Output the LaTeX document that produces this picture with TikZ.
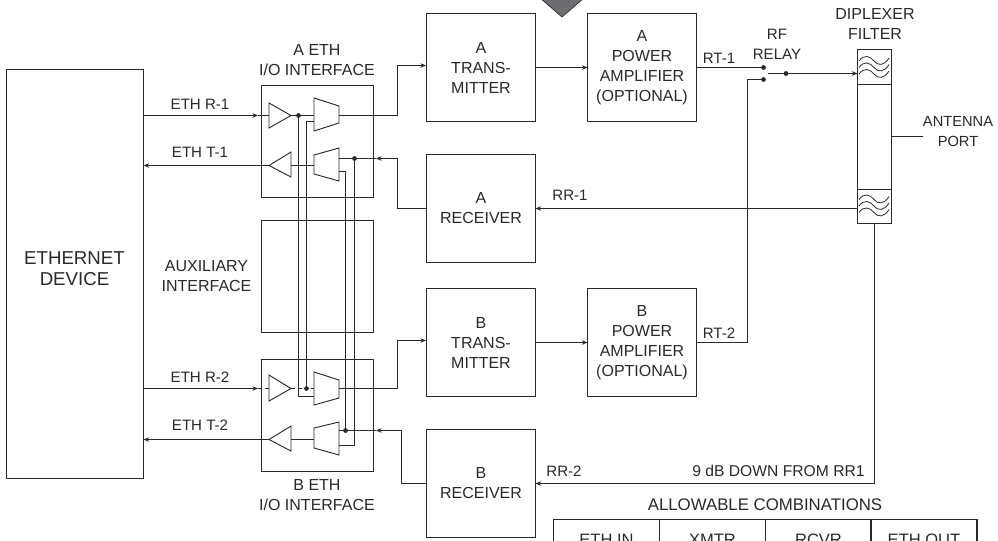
\documentclass[tikz,border=0pt]{standalone}
\usepackage{fontspec}
\setmainfont{Liberation Sans}
\usetikzlibrary{arrows.meta,positioning}
\definecolor{SigInk}{HTML}{2A2829}
\definecolor{SigGray}{HTML}{6D6E71}

\begin{document}
\begin{tikzpicture}[
    x=0.75pt, y=-0.75pt,
    font=\fontsize{12}{15}\selectfont,
    every node/.style={outer sep=0pt, inner sep=0pt, text=SigInk},
    blockbox/.style={draw=SigInk, line width=0.8pt, align=center,
        minimum width=81.75pt, minimum height=81pt},
    ifacebox/.style={draw=SigInk, line width=0.8pt,
        minimum width=84pt, minimum height=84pt},
    filterbox/.style={draw=SigInk, line width=0.8pt, minimum width=25.5pt},
    cellbox/.style={draw=SigInk, line width=0.8pt,
        font=\fontsize{12.4}{15}\selectfont,
        minimum width=79.5pt, minimum height=30pt},
    junction/.style={circle, fill=SigInk, minimum size=3.6pt},
    wire/.style={draw=SigInk, line width=0.8pt},
    flow/.style={-{Stealth[length=4.2pt,width=3.4pt]},
                 draw=SigInk, line width=0.8pt},
    gate/.style={draw=SigInk, line width=0.7pt, line join=miter},
    sig label/.style={font=\fontsize{11.3}{15}\selectfont, align=center}
]
    \useasboundingbox (0,0) rectangle (998,540);
    \clip (0,0) rectangle (998,540);

    \fill[SigGray, draw=SigInk, line width=0.5pt]
        (540,-2) -- (562,17) -- (584,-2) -- cycle;

    \node[draw=SigInk, line width=0.8pt,
          minimum width=102.75pt, minimum height=306.75pt] (ethdev)
        at (75,274) {};
    \node[align=center, font=\fontsize{14}{15.6}\selectfont] (ethlbl)
        at (74.5,268.5) {ETHERNET\\DEVICE};

    \node[ifacebox] (aeth) at (317.5,141.5) {};
    \node[ifacebox] (aux) at (317.5,276.5) {};
    \node[ifacebox] (beth) at (317.5,415.5) {};

    \node[blockbox] (atx) at (481,67.5) {A\\TRANS-\\MITTER};
    \node[blockbox] (apa) at (642,67.5) {A\\POWER\\AMPLIFIER\\(OPTIONAL)};
    \node[blockbox] (arx) at (481,208.5) {A\\RECEIVER};
    \node[blockbox] (btx) at (481,342.5) {B\\TRANS-\\MITTER};
    \node[blockbox] (bpa) at (642,342.5) {B\\POWER\\AMPLIFIER\\(OPTIONAL)};
    \node[blockbox] (brx) at (481,483.5) {B\\RECEIVER};

    \node[filterbox, minimum height=26.25pt] (ftop) at (874.5,67) {};
    \node[filterbox, minimum height=78.75pt] (fmid) at (874.5,137) {};
    \node[filterbox, minimum height=25.5pt] (fbot) at (874.5,206.5) {};

    \foreach \yw in {61,67.5,74,199.5,206,212.5}
        \draw[line width=0.6pt, draw=SigInk] (859,\yw)
            .. controls (864,\yw-7) and (870,\yw-5) .. (874,\yw)
            .. controls (878,\yw+5) and (884,\yw+5) .. (889,\yw-3);

    \draw[gate] (269,103) -- (291,115.5) -- (269,128) -- cycle;
    \draw[gate] (314,98) -- (339,106) -- (339,123) -- (314,131) -- cycle;
    \draw[gate] (269,165.5) -- (291,152) -- (291,177) -- cycle;
    \draw[gate] (314,155) -- (339,148) -- (339,181) -- (314,174) -- cycle;
    \draw[gate] (269,375) -- (291,388.5) -- (269,401) -- cycle;
    \draw[gate] (314,372) -- (339,380) -- (339,398) -- (314,405) -- cycle;
    \draw[gate] (269,439.5) -- (291,426) -- (291,451) -- cycle;
    \draw[gate] (314,428) -- (339,422) -- (339,455) -- (314,448) -- cycle;

    \coordinate (arin) at (269,115.5);
    \coordinate (arhead) at (258,115.5);
    \coordinate (arbuf) at (291,115.5);
    \coordinate (armuxa) at (314,115.5);
    \coordinate (armuxb) at (314,121.5);
    \coordinate (armuxo) at (339,115.5);
    \coordinate (atin) at (426,65.5);
    \coordinate (atout) at (269,165.5);
    \coordinate (atbuf) at (291,165.5);
    \coordinate (atmux) at (314,165.5);
    \coordinate (atmuxa) at (339,158.5);
    \coordinate (atmuxb) at (339,171.5);
    \coordinate (athead) at (376,158.5);
    \coordinate (brin) at (269,388.5);
    \coordinate (brhead) at (258,388.5);
    \coordinate (brbuf) at (291,388.5);
    \coordinate (brmuxa) at (314,388.5);
    \coordinate (brmuxb) at (314,396.5);
    \coordinate (brmuxo) at (339,388.5);
    \coordinate (btin) at (426,340.5);
    \coordinate (btout) at (269,439.5);
    \coordinate (btbuf) at (291,439.5);
    \coordinate (btmux) at (314,439.5);
    \coordinate (btmuxa) at (339,430.5);
    \coordinate (btmuxb) at (339,445.5);
    \coordinate (bthead) at (376,430.5);

    \node[junction] (artap) at (298.5,115.5) {};
    \node[junction] (attap) at (354.5,158.5) {};
    \node[junction] (brtap) at (306.5,388.5) {};
    \node[junction] (bttap) at (345.5,430.5) {};

    \draw[flow] (ethdev.east |- arin) -- (arhead);
    \draw[wire] (arhead) -- (arin);
    \draw[wire] (arbuf) -- (armuxa);
    \draw[flow] (armuxo) -| (397.5,65.5) -- (atin);
    \draw[flow] (atout) -- (ethdev.east |- atout);
    \draw[wire] (atbuf) -- (atmux);

    \draw[flow] (arx.west) -| (397.5,158.5) -- (athead);
    \draw[wire] (athead) -- (atmuxa);

    \draw[wire] (artap.center) -- (298.5,396.5) -- (brmuxb);
    \draw[wire] (brtap.center) -- (306.5,121.5) -- (armuxb);
    \draw[wire] (atmuxb) -- (345.5,171.5) -- (bttap.center);
    \draw[wire] (attap.center) -- (354.5,445.5) -- (btmuxb);

    \draw[flow] (ethdev.east |- brin) -- (brhead);
    \draw[wire, densely dashed] (brhead) -- (brin);
    \draw[wire, densely dashed] (brbuf) -- (brmuxa);
    \draw[flow] (brmuxo) -| (397.5,340.5) -- (btin);
    \draw[flow] (btout) -- (ethdev.east |- btout);
    \draw[wire] (btbuf) -- (btmux);

    \draw[flow] (brx.west) -| (401.5,430.5) -- (bthead);
    \draw[wire] (bthead) -- (btmuxa);

    \draw[flow] (atx.east) -- (apa.west);
    \draw[flow] (btx.east) -- (bpa.west);

    \node[junction] (relaya) at (763.5,67.5) {};
    \node[junction] (relayb) at (763.5,79.5) {};
    \node[junction] (relayc) at (786,73.5) {};
    \coordinate (relayarm) at (768,73.5);

    \draw[wire] (apa.east) -- (relaya);
    \draw[wire] (relayb) -| (747.5,342.5) -- (bpa.east);
    \draw[wire] (relayarm) -- (relayc);
    \draw[flow] (relayc) -- (ftop.west |- relayc);

    \draw[flow] (fbot.west |- arx.east) -- (arx.east);
    \draw[flow] (fbot.south) |- (brx.east);

    \coordinate (antport) at (923,136.5);
    \draw[wire] (fmid.east |- antport) -- (antport);

    \node[sig label] (ethr1) at (200,104) {ETH R-1};
    \node[sig label] (etht1) at (200,152) {ETH T-1};
    \node[sig label] (ethr2) at (200,377) {ETH R-2};
    \node[sig label] (etht2) at (200,425) {ETH T-2};
    \node[sig label] (rt1) at (719,58) {RT-1};
    \node[sig label] (rt2) at (719,333) {RT-2};
    \node[sig label] (rr1) at (570,195) {RR-1};
    \node[sig label] (rr2) at (564,471) {RR-2};
    \node[sig label, font=\fontsize{11.75}{15}\selectfont] (down)
        at (778.5,471) {9 dB DOWN FROM RR1};
    \node[sig label] (relay) at (777,44) {RF\\RELAY};
    \node[align=center] (dipl) at (875,24) {DIPLEXER\\FILTER};
    \node[align=center, font=\fontsize{11}{15}\selectfont] (antenna)
        at (958,132) {ANTENNA\\PORT};
    \node[align=center] (auxlbl) at (206.5,276.5) {AUXILIARY\\INTERFACE};
    \node[align=center] (aethlbl) at (317,60) {A ETH\\I/O INTERFACE};
    \node[align=center] (bethlbl) at (317,495) {B ETH\\I/O INTERFACE};

    \node[font=\fontsize{12.6}{15}\selectfont] (allow) at (765,505)
        {ALLOWABLE COMBINATIONS};
    \foreach \x/\cell/\txt in {606.5/ethin/ETH IN,712.5/xmtr/XMTR,
                               818.5/rcvr/RCVR,924/ethout/ETH OUT}
        \node[cellbox] (\cell) at (\x,539.5) {\txt};
\end{tikzpicture}
\end{document}
